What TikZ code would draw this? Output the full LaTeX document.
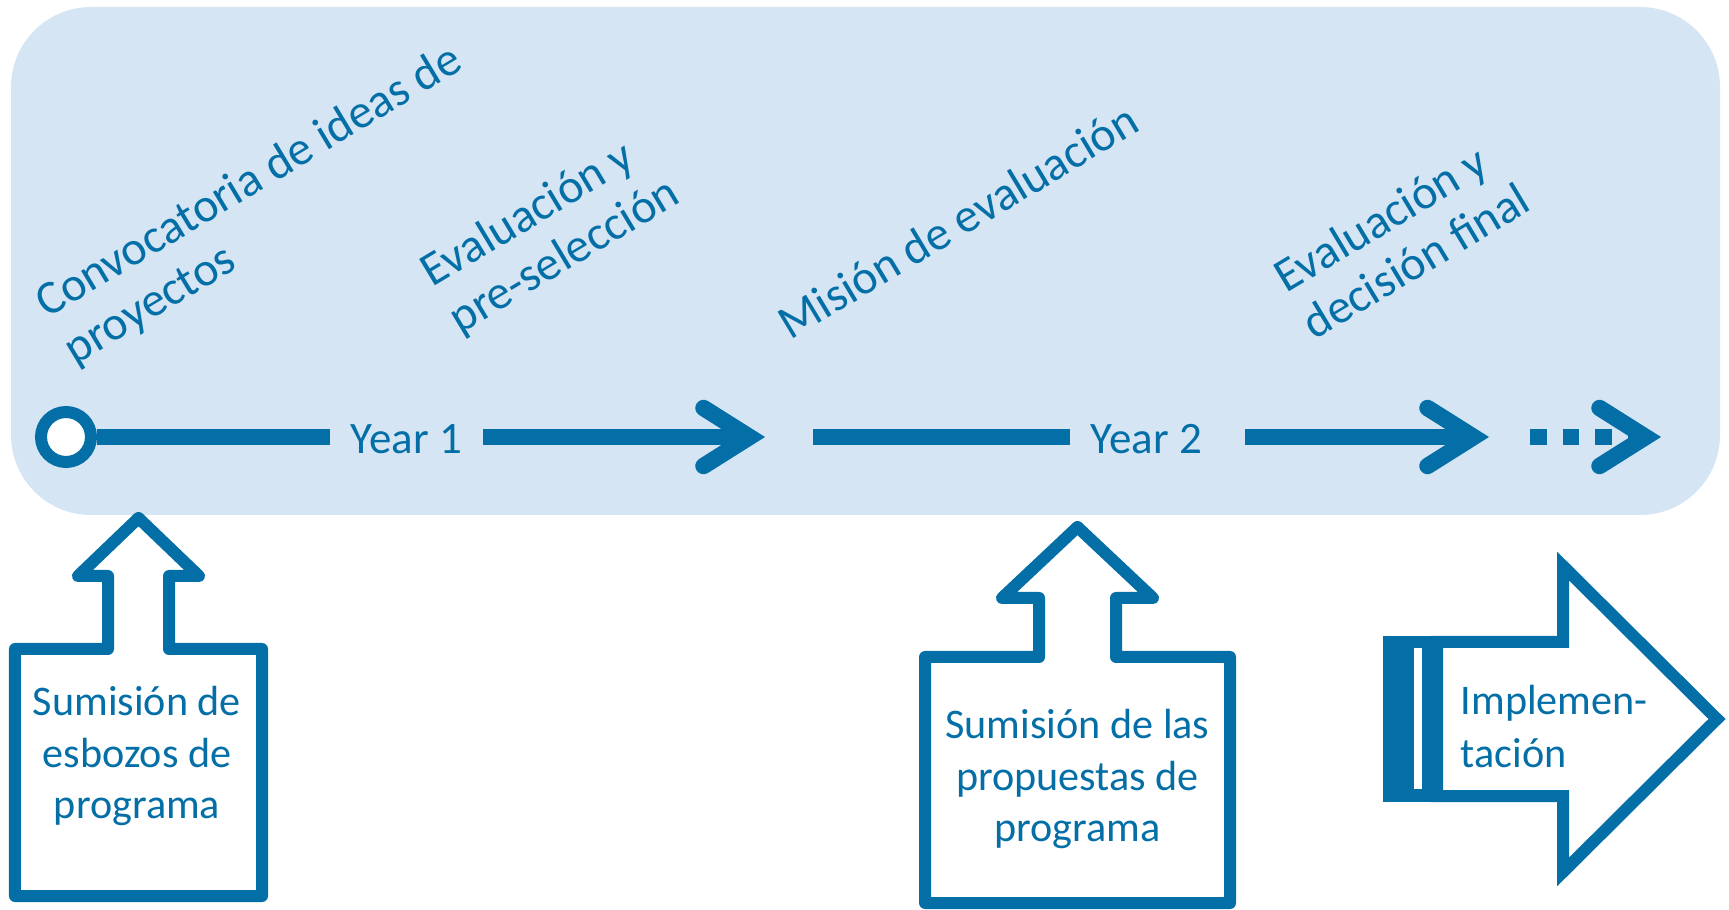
\documentclass[tikz,border=0pt]{standalone}
\usepackage{fontspec}
\setmainfont{Carlito}
\usetikzlibrary{arrows.meta}
\definecolor{tlblue}{HTML}{046FA7}
\definecolor{bgblue}{HTML}{D5E5F4}
\begin{document}
\begin{tikzpicture}[
    timeline/.style={draw=tlblue, line width=1.65mm},
    barb/.style={-{Straight Barb[length=4.6mm,width=5.8mm,line cap=round,line join=miter]}},
    startdot/.style={circle, draw=tlblue, line width=1.2mm, fill=white, minimum size=5mm, inner sep=0pt},
    year/.style={text=tlblue, inner xsep=0.2cm, text height=3.3mm, text depth=0pt, font=\fontsize{12.8}{15}\selectfont},
    phase/.style={text=tlblue, rotate=31, anchor=base west, align=left, inner sep=0pt, font=\fontsize{13.6}{15.5}\selectfont},
    callout/.style={draw=tlblue, line width=1.2mm, line join=round, fill=white},
    calltext/.style={text=tlblue, align=center, font=\fontsize{12}{14.6}\selectfont},
    implarrow/.style={draw=tlblue, line width=1.2mm, line join=miter, fill=white},
    ]
    \useasboundingbox (0,0) rectangle (17.29,9.09);
    \fill[bgblue, rounded corners=0.8cm] (0.11,3.94) rectangle (17.20,9.02);

    \node[phase] (call) at (0.75,5.43) {Convocatoria de ideas de\\proyectos};
    \node[phase] (presel) at (4.60,5.74) {Evaluación y\\pre-selección};
    \node[phase] (mision) at (7.90,5.68) {Misión de evaluación};
    \node[phase] (final) at (13.14,5.68) {Evaluación y\\decisión final};

    \node[startdot] (start) at (0.66,4.72) {};
    \node[year] (year1) at (4.065,4.72) {Year 1};
    \coordinate (tip1) at (7.65,4.72);
    \coordinate (seg2) at (8.13,4.72);
    \node[year] (year2) at (11.465,4.72) {Year 2};
    \coordinate (tip2) at (14.89,4.72);
    \coordinate (dots) at (15.30,4.72);
    \coordinate (tip3) at (16.61,4.72);
    \draw[timeline] (start) -- (year1);
    \draw[timeline, barb] (year1) -- (tip1);
    \draw[timeline] (seg2) -- (year2);
    \draw[timeline, barb, shorten <=0.22cm] (year2) -- (tip2);
    \draw[timeline, barb, dash pattern=on 1.65mm off 1.6mm] (dots) -- (tip3);

    \draw[callout] (0.15,2.60) -- (1.08,2.60) -- (1.08,3.33) -- (0.78,3.33) -- (1.385,3.91)
        -- (1.99,3.33) -- (1.69,3.33) -- (1.69,2.60) -- (2.62,2.60) -- (2.62,0.13) -- (0.15,0.13) -- cycle;
    \node[calltext] (sketch) at (1.37,1.53) {Sumisión de\\esbozos de\\programa};

    \draw[callout] (9.25,2.52) -- (10.39,2.52) -- (10.39,3.11) -- (10.02,3.11) -- (10.775,3.82)
        -- (11.53,3.11) -- (11.16,3.11) -- (11.16,2.52) -- (12.30,2.52) -- (12.30,0.06) -- (9.25,0.06) -- cycle;
    \node[calltext] (proposal) at (10.775,1.30) {Sumisión de las\\propuestas de\\programa};

    \fill[tlblue] (13.83,1.07) rectangle (14.43,2.73);
    \fill[white] (14.14,1.20) rectangle (14.22,2.61);
    \draw[implarrow] (14.37,2.67) -- (15.63,2.67) -- (15.63,3.43) -- (17.17,1.90)
        -- (15.63,0.37) -- (15.63,1.13) -- (14.37,1.13) -- cycle;
    \node[text=tlblue, align=left, anchor=base west, inner sep=0pt, font=\fontsize{12}{14.8}\selectfont] (impl) at (14.60,1.42) {Implemen-\\tación};
\end{tikzpicture}
\end{document}
